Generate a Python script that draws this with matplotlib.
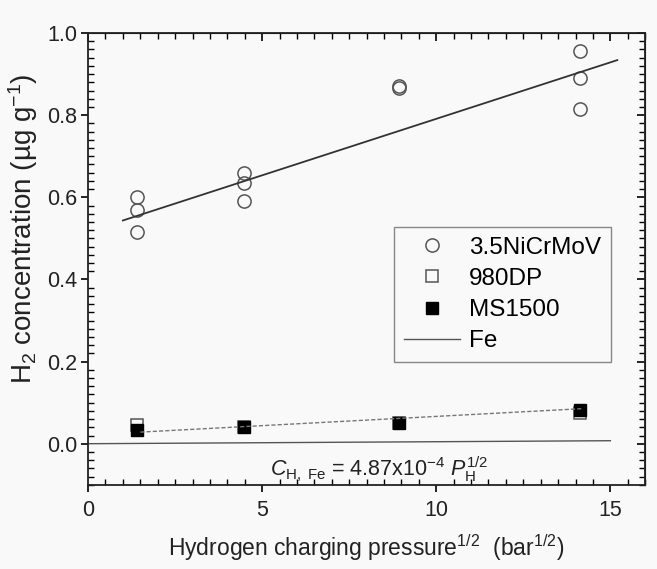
import numpy as np
import matplotlib
matplotlib.use("Agg")
import matplotlib.pyplot as plt
from matplotlib.ticker import MultipleLocator

plt.rcParams['font.family'] = ['Liberation Sans', 'DejaVu Sans']
plt.rcParams['mathtext.fontset'] = 'custom'
plt.rcParams['mathtext.rm'] = 'Liberation Sans'
plt.rcParams['mathtext.it'] = 'Liberation Sans:italic'

# square root of charging pressure (bar^1/2)
x_ni = [1.414, 1.414, 1.414, 4.472, 4.472, 4.472, 8.944, 8.944, 14.142, 14.142, 14.142]
y_ni = [0.600, 0.570, 0.515, 0.660, 0.635, 0.590, 0.870, 0.865, 0.955, 0.890, 0.815]

x_steel = [1.414, 4.472, 8.944, 14.142]
y_980dp = [0.045, 0.040, 0.050, 0.075]
y_ms1500 = [0.033, 0.040, 0.050, 0.082]

# linear fits (slope, intercept) and x ranges
ni_fit = (0.0275, 0.516)
ni_fit_x = [1.0, 15.2]
steel_fit = (0.0045, 0.0215)
steel_fit_x = [1.5, 14.2]
fe_coeff = 4.87e-4
fe_x = [0.0, 15.0]

bg = '#f9f9f9'
fig = plt.figure(figsize=(6.57, 5.69), dpi=100, facecolor=bg)
ax = fig.add_axes([0.134, 0.148, 0.848, 0.794], facecolor=bg)

ax.plot(x_ni, y_ni, 'o', ms=9.5, mfc='none', mec='#555555', mew=1.1,
        label='3.5NiCrMoV')
ax.plot(x_steel, y_980dp, 's', ms=8, mfc='none', mec='#555555', mew=1.1,
        label='980DP')
ax.plot(x_steel, y_ms1500, 's', ms=8, mfc='black', mec='black',
        label='MS1500')

fx = np.array(ni_fit_x)
ax.plot(fx, ni_fit[0] * fx + ni_fit[1], color='#333333', lw=1.3)
sx = np.array(steel_fit_x)
ax.plot(sx, steel_fit[0] * sx + steel_fit[1], color='#777777', lw=1.0,
        ls=(0, (3, 1.5)))
ex = np.array(fe_x)
ax.plot(ex, fe_coeff * ex, color='#555555', lw=1.0, label='Fe')

ax.text(8.35, -0.062, r'$\mathit{C}_{\mathrm{H,\ Fe}}$ = 4.87x10$^{-4}$ $\mathit{P}_{\mathrm{H}}^{1/2}$',
        ha='center', va='center', fontsize=15.5, color='#222222')

ax.set_xlim(0, 16)
ax.set_ylim(-0.1, 1.0)
ax.xaxis.set_major_locator(MultipleLocator(5))
ax.xaxis.set_minor_locator(MultipleLocator(0.5))
ax.yaxis.set_major_locator(MultipleLocator(0.2))
ax.yaxis.set_minor_locator(MultipleLocator(0.02))
ax.yaxis.set_major_formatter(plt.FormatStrFormatter('%.1f'))
ax.tick_params(which='major', direction='out', length=5, width=1.2,
               labelsize=15.5, labelcolor='#222222', pad=3)
ax.tick_params(axis='x', which='major', pad=6)
ax.tick_params(which='minor', direction='in', length=4, width=1.0)

top = ax.secondary_xaxis('top')
top.xaxis.set_major_locator(MultipleLocator(5))
top.xaxis.set_minor_locator(MultipleLocator(0.5))
top.tick_params(which='major', direction='in', length=6, width=1.2, labeltop=False)
top.tick_params(which='minor', direction='in', length=4, width=1.0)
right = ax.secondary_yaxis('right')
right.yaxis.set_major_locator(MultipleLocator(0.2))
right.yaxis.set_minor_locator(MultipleLocator(0.02))
right.tick_params(which='major', direction='in', length=6, width=1.2, labelright=False)
right.tick_params(which='minor', direction='in', length=4, width=1.0)

for s in ax.spines.values():
    s.set_linewidth(1.3)
    s.set_color('#222222')

ax.set_xlabel(r'Hydrogen charging pressure$^{1/2}$  (bar$^{1/2}$)',
              fontsize=16.5, color='#222222', labelpad=8)
ax.set_ylabel(r'H$_2$ concentration (µg g$^{-1}$)', fontsize=20,
              color='#222222')
ax.yaxis.set_label_coords(-0.086, 0.566)

leg = ax.legend(loc='upper left', bbox_to_anchor=(0.549, 0.571),
                borderaxespad=0, fontsize=17.5, handlelength=2.3,
                handletextpad=0.4, labelspacing=0.38, fancybox=False,
                framealpha=1, facecolor=bg, edgecolor='#888888',
                borderpad=0.4)
leg.get_frame().set_linewidth(1.0)

fig.savefig('out.png', dpi=100, facecolor=bg)
